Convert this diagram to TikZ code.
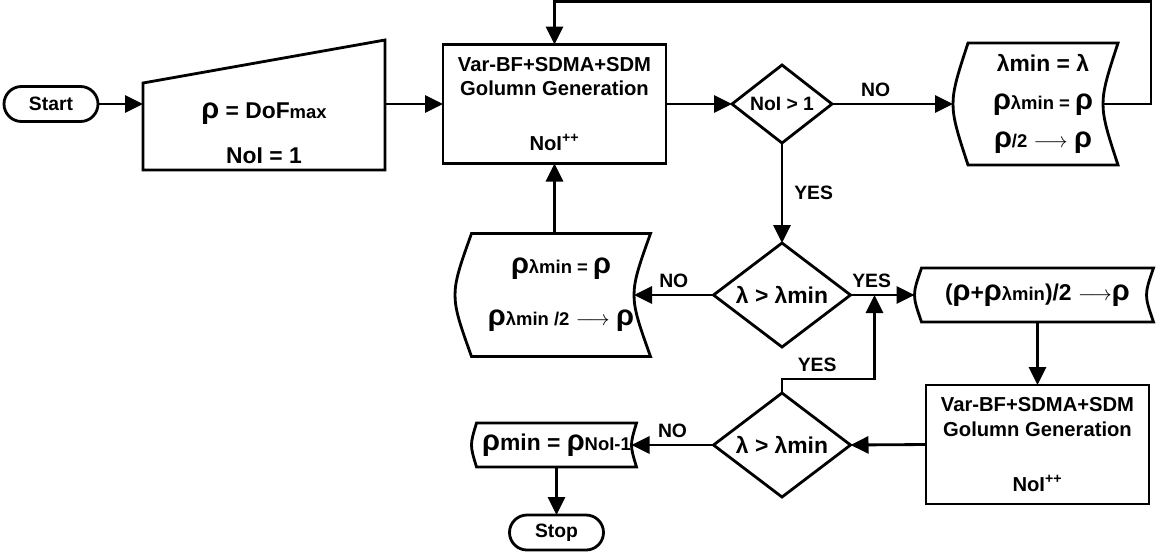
\documentclass[tikz,border=0pt]{standalone}
\usepackage{fontspec}
\setmainfont{Liberation Sans}
\usetikzlibrary{positioning,calc,shapes.geometric,arrows.meta}
\tikzset{heavy/.style={line width=1.6pt},
         block/.style={draw,heavy,outer sep=0pt,minimum width=4.46cm,minimum height=2.38cm,align=center,font=\bfseries\fontsize{11.5}{14}\selectfont},
         decision/.style={draw,heavy,diamond,aspect=1.3,inner sep=0pt,outer sep=0pt,align=center},
         term/.style={draw,heavy,outer sep=0pt,rounded corners=0.35cm,minimum width=1.88cm,minimum height=0.7cm,font=\bfseries\fontsize{11}{13}\selectfont},
         store/.style={inner sep=0pt,outer sep=0pt,align=center,font=\bfseries\fontsize{13}{16}\selectfont},
         lbl/.style={font=\bfseries\fontsize{11}{13}\selectfont}
}
\tikzstyle{arrow} = [heavy,-{Triangle[length=0.36cm,width=0.34cm]}]
\newcommand{\rhobig}{{\fontsize{16.5}{16}\selectfont ρ}}
\newcommand{\smalltxt}[1]{{\fontsize{10.5}{12}\selectfont #1}}
% stored data outline: straight top and bottom, both sides bent to the left
\newcommand{\storeshape}[2]{%
  \draw[heavy] (#1.north west) -- (#1.north east)
    .. controls ($(#1.east)+(-4*#2/3,0)$) .. (#1.south east)
    -- (#1.south west)
    .. controls ($(#1.west)+(-4*#2/3,0)$) .. (#1.north west) -- cycle;
  \coordinate (#1-in) at ($(#1.west)+(-#2,0)$);
  \coordinate (#1-out) at ($(#1.east)+(-#2,0)$);}

\begin{document}
\begin{tikzpicture}
\useasboundingbox (0,0) rectangle (23.36,-11.16);

\node[term] (start) at (1.02,-2.08) {Start};
\node[store,minimum width=4.84cm,minimum height=1.74cm,right=0.9cm of start,yshift=-0.45cm] (input) {\rule{0pt}{0.6cm}\rhobig{} = DoF\smalltxt{max}\\[0.34cm]NoI = 1};
\node[block,right=6.9cm of start] (gen) {Var-BF+SDMA+SDM\\Golumn Generation\\[0.6cm]NoI\textsuperscript{++}};
\node[decision,minimum width=2cm,minimum height=1.56cm,font=\bfseries\fontsize{11}{13}\selectfont,right=1.32cm of gen] (noi) {NoI > 1};
\node[store,minimum width=3cm,minimum height=2.44cm,right=2.72cm of noi] (halve) {λmin = λ\\[0.2cm]\rhobig\smalltxt{λmin = }\rhobig\\[0.2cm]\rhobig\smalltxt{/2} $\longrightarrow$ \rhobig};
\node[decision,minimum width=2.74cm,minimum height=2.08cm,font=\bfseries\fontsize{13}{16}\selectfont,below=2cm of noi] (cmpa) {λ > λmin};
\node[store,minimum width=3.58cm,minimum height=2.46cm,left=1.26cm of cmpa] (keep) {\rhobig\smalltxt{λmin = }\rhobig\\[0.48cm]\rhobig\smalltxt{λmin /2} $\longrightarrow$ \rhobig};
\node[store,minimum width=4.64cm,minimum height=1.08cm,right=1.42cm of cmpa] (mean) {(\rhobig+\rhobig\smalltxt{λmin})/2 $\longrightarrow$\rhobig};
\node[block,below=1.26cm of mean] (gen2) {Var-BF+SDMA+SDM\\Golumn Generation\\[0.6cm]NoI\textsuperscript{++}};
\node[decision,minimum width=2.74cm,minimum height=2.08cm,font=\bfseries\fontsize{13}{16}\selectfont,below=0.92cm of cmpa] (cmpb) {λ > λmin};
\node[store,minimum width=3.2cm,minimum height=0.88cm,left=1.54cm of cmpb] (result) {\rhobig min = \rhobig\smalltxt{NoI-1}};
\node[term,below=0.96cm of result] (stop) {Stop};

\draw[heavy] (input.south west) -- (input.south east) -- ($(input.north east)+(0,0.86)$) -- (input.north west) -- cycle;
\storeshape{halve}{0.3}
\storeshape{keep}{0.33}
\storeshape{mean}{0.14}
\storeshape{result}{0.1}
\coordinate (join) at ($(cmpa.east)+(0.48,0)$);

\draw[arrow] (start.east) -- (start.east -| input.west);
\draw[arrow] (input.east |- gen.west) -- (gen.west);
\draw[arrow] (gen) -- (noi);
\draw[arrow] (noi.east) -- node[lbl,above,pos=0.36] {NO} (halve-in);
\draw[arrow] (halve-out) -- ++(0.96,0) |- ($(gen.north)+(0,0.86)$) -- (gen.north);
\draw[arrow] (noi.south) -- node[lbl,right=0.1cm] {YES} (cmpa.north);
\draw[arrow] (cmpa.west) -- node[lbl,above] {NO} (keep-out);
\draw[arrow] (keep.north -| gen.south) -- (gen.south);
\draw[arrow] (cmpa.east) -- node[lbl,above,pos=0.33] {YES} (mean-in);
\draw[arrow] (mean.south) -- (gen2.north);
\draw[arrow] (gen2.west) -- (cmpb.east);
\draw[arrow] (cmpb.north) -- ++(0,0.28) -| node[lbl,above,pos=0.19] {YES} (join);
\draw[arrow] (cmpb.west) -- node[lbl,above] {NO} (result-out);
\draw[arrow] (result.south) -- (stop.north);

\end{tikzpicture}
\end{document}
